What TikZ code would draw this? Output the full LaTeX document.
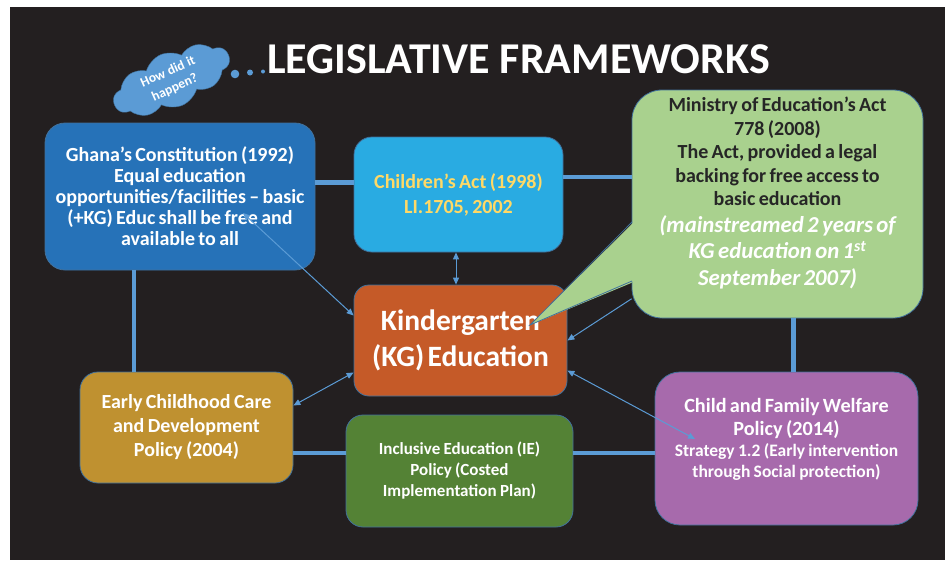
\documentclass[tikz,border=0pt]{standalone}
\usepackage{fontspec}
\setmainfont{Carlito}
\usepackage{tikz}
\usetikzlibrary{
  shapes.symbols
  , calc
  , arrows.meta
}
\definecolor{bgdark}{RGB}{35,31,32}
\definecolor{edgeblue}{RGB}{65,113,156}
\definecolor{linkblue}{RGB}{91,155,213}
\definecolor{ghanablue}{RGB}{38,114,184}
\definecolor{childblue}{RGB}{41,171,226}
\definecolor{childtext}{RGB}{255,217,102}
\definecolor{kgorange}{RGB}{197,90,40}
\definecolor{minigreen}{RGB}{169,209,142}
\definecolor{minitext}{RGB}{38,38,38}
\definecolor{eccdgold}{RGB}{191,145,48}
\definecolor{iegreen}{RGB}{84,130,53}
\definecolor{cfwpurple}{RGB}{167,106,172}

\begin{document}
\begin{tikzpicture}[x=1pt,y=-1pt]
      \tikzstyle{box template}=[draw=edgeblue, line width=0.8pt, align=center, inner sep=0pt, font=\bfseries, text=white]
      \tikzstyle{link template}=[draw=linkblue, line width=4.5pt]
      \tikzstyle{arrow template}=[draw=linkblue, line width=1pt, {Triangle[length=7pt,width=6pt]}-{Triangle[length=7pt,width=6pt]}]

      \useasboundingbox (0,0) rectangle (945,560);
      \fill[white] (0,0) rectangle (945,560);
      \fill[bgdark] (10,7) rectangle (945,560);

      \node [text=white, font=\fontsize{44}{50}\selectfont\bfseries] (title) at (518.5,59) {LEGISLATIVE FRAMEWORKS};

      \node [cloud, cloud puffs=10, cloud puff arc=100, aspect=2.4, draw=edgeblue, fill=linkblue, rotate=24, minimum width=124pt, minimum height=54pt, inner sep=0pt, text=white, align=center, text width=72pt] (cloud) at (171.5,80)
        {\fontsize{13.5}{17}\selectfont\bfseries How did it\\happen?\par};
      \fill[linkblue] (235,74) circle (4.3pt) (250,72.5) circle (3pt) (263,71.5) circle (2pt);

      % boxes
      \node [box template, fill=ghanablue, rounded corners=20pt, minimum width=270pt, minimum height=147pt, text width=262pt] (ghana) at (180,196.5)
        {\fontsize{20}{21}\selectfont Ghana’s Constitution (1992)\\Equal education\\opportunities/facilities -- basic\\(+KG) Educ shall be free and\\available to all\par};
      \node [box template, fill=childblue, rounded corners=18pt, minimum width=209pt, minimum height=115pt, text width=202pt, text=childtext] (children) at (458.5,194.5)
        {\fontsize{20}{25}\selectfont Children’s Act (1998)\\LI.1705, 2002\par};
      \node [box template, fill=kgorange, rounded corners=15pt, minimum width=213pt, minimum height=111pt, text width=206pt] (kg) at (460.5,340.5)
        {\fontsize{29.5}{36}\selectfont Kindergarten\\(KG) Education\par};

      \fill[minigreen] (530,325) -- (636,222) -- (636,281) -- cycle;
      \node [box template, fill=minigreen, rounded corners=30pt, minimum width=291pt, minimum height=228pt, text width=284pt] (mini) at (777.5,204)
        {{\fontsize{20}{23.5}\selectfont\color{minitext}Ministry of Education’s Act\\778 (2008)\\The Act, provided a legal\\backing for free access to\\basic education\par}
         {\fontsize{22.8}{26.5}\selectfont\itshape (mainstreamed 2 years of\\KG education on 1\textsuperscript{st}\\September 2007)\par}\vspace*{22pt}};
      \fill[minigreen] (530,325) -- (634,222) -- (634,281) -- cycle;
      \draw[edgeblue, line width=0.8pt] (632,222) -- (530,325) -- (632,281);

      \node [box template, fill=eccdgold, rounded corners=18pt, minimum width=213pt, minimum height=111pt, text width=206pt] (eccd) at (186.5,427.5)
        {\fontsize{20}{24}\selectfont Early Childhood Care\\and Development\\Policy (2004)\par};
      \node [box template, fill=iegreen, rounded corners=17pt, minimum width=227pt, minimum height=112pt, text width=220pt] (ie) at (459.5,471)
        {\fontsize{17}{21}\selectfont Inclusive Education (IE)\\Policy (Costed\\Implementation Plan)\par};
      \node [box template, fill=cfwpurple, rounded corners=25pt, minimum width=263pt, minimum height=153pt, text width=258pt] (cfw) at (786.5,448.5)
        {{\fontsize{20.2}{23}\selectfont Child and Family Welfare\\Policy (2014)\par}
         {\fontsize{17.5}{21}\selectfont Strategy 1.2 (Early intervention\\through Social protection)\par}\vspace*{19pt}};

      % thick links
      \coordinate (g1) at ([yshift=14pt]ghana.east);
      \coordinate (c1) at ([yshift=17.5pt]children.east);
      \coordinate (g2) at ([xshift=-46pt]ghana.south);
      \coordinate (e1) at ([yshift=-25.5pt]eccd.east);
      \coordinate (m1) at ([xshift=16pt]mini.south);
      \draw [link template] (g1) -- (g1 -| children.west);
      \draw [link template] (c1) -- (c1 -| mini.west);
      \draw [link template] (g2) -- (g2 |- eccd.north);
      \draw [link template] (e1) -- (e1 -| ie.west);
      \draw [link template] (ie.east |- e1) -- (e1 -| cfw.west);
      \draw [link template] (m1) -- (m1 |- cfw.north);

      % thin arrows
      \coordinate (gin) at ($(ghana.center)+(63,16.5)$);
      \coordinate (cin) at ($(cfw.center)+(-91.5,-9.5)$);
      \coordinate (ch1) at ([xshift=-2.5pt]children.south);
      \draw [arrow template] (gin) -- ([yshift=25pt]kg.west);
      \draw [arrow template] (ch1) -- (ch1 |- kg.north);
      \draw [arrow template] ([yshift=22pt]eccd.east) -- ([yshift=-32pt]kg.west);
      \draw [arrow template, -{Triangle[length=7pt,width=6pt]}] (mini.213) -- (kg.east);
      \draw [arrow template] ([yshift=-30pt]kg.east) -- (cin);

    \end{tikzpicture}
\end{document}
